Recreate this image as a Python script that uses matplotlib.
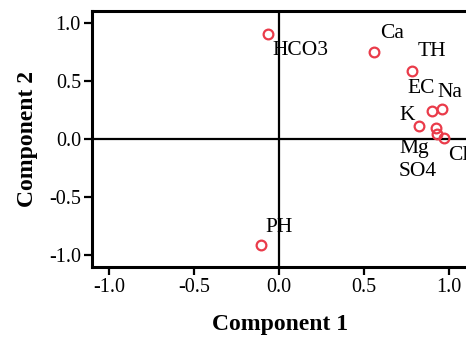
import matplotlib
matplotlib.use("Agg")
import matplotlib.pyplot as plt

# component loadings
variables = ["HCO3", "Ca", "TH", "EC", "Na", "K", "Mg", "SO4", "Cl", "PH"]
comp1 = [-0.063, 0.559, 0.782, 0.898, 0.955, 0.824, 0.920, 0.928, 0.969, -0.108]
comp2 = [0.905, 0.750, 0.586, 0.244, 0.261, 0.109, 0.092, 0.040, 0.011, -0.914]
ticks = [-1.0, -0.5, 0.0, 0.5, 1.0]

# where each label sits relative to its point (pixels)
label_offsets = {
    "HCO3": (4, -17), "Ca": (6, 18), "TH": (5, 19), "EC": (-24, 22),
    "Na": (-4, 16), "K": (-20, 11), "Mg": (-36, -20), "SO4": (-38, -37),
    "Cl": (4, -18), "PH": (5, 18),
}

plt.rcParams["font.family"] = ["Liberation Serif", "DejaVu Serif"]

fig = plt.figure(figsize=(4.66, 3.41), dpi=100)
# axes run a little past the right edge, like the cropped original
ax = fig.add_axes([92 / 466, 74 / 341, 376 / 466, 256 / 341])

# reference lines through the origin
ax.axhline(0, color="black", lw=1.6, zorder=1)
ax.axvline(0, color="black", lw=1.6, zorder=1)

ax.plot(comp1, comp2, "o", ls="none", ms=7, mfc="none", mec="#ea3b4a", mew=1.6, zorder=3)

for name, x, y in zip(variables, comp1, comp2):
    dx, dy = label_offsets[name]
    ax.annotate(name, (x, y), xytext=(dx, dy), textcoords="offset pixels",
                ha="left", va="center", fontsize=15.5, color="black")

ax.set_xlim(-1.1, 1.11)
ax.set_ylim(-1.1, 1.1)
ax.set_xticks(ticks)
ax.set_yticks(ticks)
ax.set_xticklabels([f"{t:.1f}" for t in ticks])
ax.set_yticklabels([f"{t:.1f}" for t in ticks])
ax.tick_params(direction="out", length=6, width=1.6, labelsize=14.5, pad=2)

for side in ["left", "bottom", "top"]:
    ax.spines[side].set_linewidth(2.2)
    ax.spines[side].set_color("black")
ax.spines["right"].set_visible(False)

ax.set_xlabel("Component 1", fontsize=17, fontweight="bold", labelpad=12)
ax.set_ylabel("Component 2", fontsize=17, fontweight="bold", labelpad=8)

fig.savefig("out.png", dpi=100)
